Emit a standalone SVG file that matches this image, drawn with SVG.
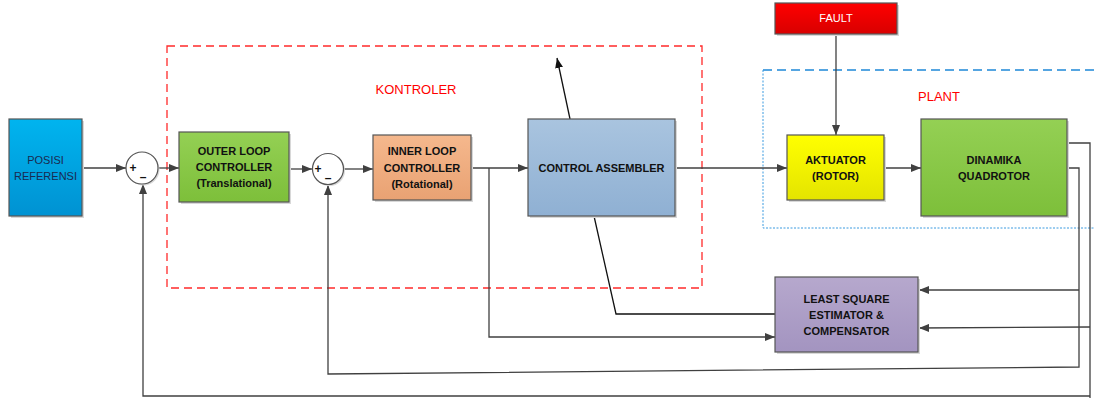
<svg xmlns="http://www.w3.org/2000/svg" width="1094" height="398" viewBox="0 0 1094 398">
<defs>
<linearGradient id="gBlue" x1="0" y1="0" x2="0" y2="1"><stop offset="0" stop-color="#00b4ef"/><stop offset="1" stop-color="#0092d2"/></linearGradient>
<linearGradient id="gGreen" x1="0" y1="0" x2="0" y2="1"><stop offset="0" stop-color="#94d054"/><stop offset="1" stop-color="#7dbf3a"/></linearGradient>
<linearGradient id="gOrange" x1="0" y1="0" x2="0" y2="1"><stop offset="0" stop-color="#f5b88d"/><stop offset="1" stop-color="#e9a273"/></linearGradient>
<linearGradient id="gSteel" x1="0" y1="0" x2="0" y2="1"><stop offset="0" stop-color="#a9c4df"/><stop offset="1" stop-color="#8fb0d3"/></linearGradient>
<linearGradient id="gRed" x1="0" y1="0" x2="0" y2="1"><stop offset="0" stop-color="#ff0000"/><stop offset="1" stop-color="#d80000"/></linearGradient>
<linearGradient id="gYellow" x1="0" y1="0" x2="0" y2="1"><stop offset="0" stop-color="#ffff00"/><stop offset="1" stop-color="#e4e400"/></linearGradient>
<linearGradient id="gPurple" x1="0" y1="0" x2="0" y2="1"><stop offset="0" stop-color="#b6a8cd"/><stop offset="1" stop-color="#a394c0"/></linearGradient>
<marker id="arr" viewBox="0 0 10 8" refX="10" refY="4" markerWidth="10" markerHeight="8" markerUnits="userSpaceOnUse" orient="auto"><path d="M0,0 L10,4 L0,8 z" fill="#404040"/></marker>
<marker id="arrB" viewBox="0 0 10 8" refX="10" refY="4" markerWidth="10" markerHeight="8" markerUnits="userSpaceOnUse" orient="auto"><path d="M0,0 L10,4 L0,8 z" fill="#111"/></marker>
</defs>
<style>
.box{stroke:#555;stroke-width:1.2}
.shadow{fill:#d8d8d8}
.t{font-family:"Liberation Sans",Arial,sans-serif;font-size:11px;font-weight:bold;fill:#111;text-anchor:middle}
.tn{font-family:"Liberation Sans",Arial,sans-serif;font-size:11px;fill:#1a2a50;text-anchor:middle}
.lbl{font-family:"Liberation Sans",Arial,sans-serif;font-size:13px;fill:#ff0000;text-anchor:middle}
.c{fill:none;stroke:#404040;stroke-width:1.3}
.cb{fill:none;stroke:#111;stroke-width:1.3}
.sum{fill:#fff;stroke:#555;stroke-width:1.2}
.sg{font-family:"Liberation Sans",Arial,sans-serif;font-size:12px;font-weight:bold;fill:#111;text-anchor:middle}
</style>

<g id="kontroler-frame">
<rect x="167" y="46" width="535" height="242" fill="none" stroke="#ff2a2a" stroke-width="1.3" stroke-dasharray="8,5"/>
<text class="lbl" x="416" y="94">KONTROLER</text>
</g>
<g id="plant-frame">
<path d="M763,70 H1094" fill="none" stroke="#1e88d8" stroke-width="1.3" stroke-dasharray="9,5"/>
<path d="M763,70 V228 H1094" fill="none" stroke="#3a9be0" stroke-width="1" stroke-dasharray="2,1.5"/>
<text class="lbl" x="939" y="101">PLANT</text>
</g>

<g id="connectors">
<path class="c" d="M82,168 H126" marker-end="url(#arr)"/>
<path class="c" d="M158,168 H179" marker-end="url(#arr)"/>
<path class="c" d="M289,169 H312" marker-end="url(#arr)"/>
<path class="c" d="M344,169 H373" marker-end="url(#arr)"/>
<path class="c" d="M471,168 H528" marker-end="url(#arr)"/>
<path class="c" d="M675,168 H787" marker-end="url(#arr)"/>
<path class="c" d="M884,168 H921" marker-end="url(#arr)"/>
<path class="c" d="M836,34 V135" marker-end="url(#arr)"/>
<path class="cb" d="M570,119 L557,58" marker-end="url(#arrB)"/>
<path class="cb" d="M594,216 L616,314 H775"/>
<path class="c" d="M489,168 V337 H775" marker-end="url(#arr)"/>
<path class="c" d="M1067,143 H1090 V398"/>
<path class="c" d="M1067,168 H1079 V367 L328,374 V185" marker-end="url(#arr)"/>
<path class="c" d="M1079,290 H919" marker-end="url(#arr)"/>
<path class="c" d="M1090,327 L919,328" marker-end="url(#arr)"/>
<path class="c" d="M1090,396 H143 V184" marker-end="url(#arr)"/>
</g>

<g id="posisi-referensi">
<rect class="shadow" x="11" y="121" width="73" height="97"/>
<rect class="box" x="9" y="119" width="73" height="97" fill="url(#gBlue)"/>
<text class="tn" x="45.5" y="164">POSISI</text>
<text class="tn" x="45.5" y="180">REFERENSI</text>
</g>

<g id="sum1">
<circle cx="143.5" cy="169.5" r="16" fill="#d8d8d8"/>
<circle class="sum" cx="142" cy="168" r="16"/>
<text class="sg" x="133" y="172">+</text>
<text class="sg" x="143" y="181">–</text>
</g>

<g id="outer-loop">
<rect class="shadow" x="181" y="134" width="110" height="70"/>
<rect class="box" x="179" y="132" width="110" height="70" fill="url(#gGreen)"/>
<text class="t" x="234" y="155">OUTER LOOP</text>
<text class="t" x="234" y="171">CONTROLLER</text>
<text class="t" x="234" y="187">(Translational)</text>
</g>

<g id="sum2">
<circle cx="329.5" cy="170.5" r="15.5" fill="#d8d8d8"/>
<circle class="sum" cx="328" cy="169" r="15.5"/>
<text class="sg" x="318" y="173">+</text>
<text class="sg" x="328" y="182">–</text>
</g>

<g id="inner-loop">
<rect class="shadow" x="375" y="137" width="98" height="65"/>
<rect class="box" x="373" y="135" width="98" height="65" fill="url(#gOrange)"/>
<text class="t" x="422" y="155">INNER LOOP</text>
<text class="t" x="422" y="172">CONTROLLER</text>
<text class="t" x="422" y="188">(Rotational)</text>
</g>

<g id="control-assembler">
<rect class="shadow" x="530" y="121" width="147" height="97"/>
<rect class="box" x="528" y="119" width="147" height="97" fill="url(#gSteel)"/>
<text class="t" x="601.5" y="172">CONTROL ASSEMBLER</text>
</g>

<g id="fault">
<rect class="shadow" x="777" y="5" width="122" height="31"/>
<rect class="box" x="775" y="3" width="122" height="31" fill="url(#gRed)"/>
<text class="tn" x="836" y="22" style="fill:#fff">FAULT</text>
</g>

<g id="aktuator">
<rect class="shadow" x="789" y="137" width="97" height="65"/>
<rect class="box" x="787" y="135" width="97" height="65" fill="url(#gYellow)"/>
<text class="t" x="835.5" y="164">AKTUATOR</text>
<text class="t" x="835.5" y="180">(ROTOR)</text>
</g>

<g id="dinamika-quadrotor">
<rect class="shadow" x="923" y="121" width="146" height="97"/>
<rect class="box" x="921" y="119" width="146" height="97" fill="url(#gGreen)"/>
<text class="t" x="994" y="164">DINAMIKA</text>
<text class="t" x="994" y="180">QUADROTOR</text>
</g>

<g id="least-square">
<rect class="shadow" x="777" y="279" width="143" height="75"/>
<rect class="box" x="775" y="277" width="143" height="75" fill="url(#gPurple)"/>
<text class="t" x="846.5" y="303">LEAST SQUARE</text>
<text class="t" x="846.5" y="319">ESTIMATOR &amp;</text>
<text class="t" x="846.5" y="335">COMPENSATOR</text>
</g>
</svg>
